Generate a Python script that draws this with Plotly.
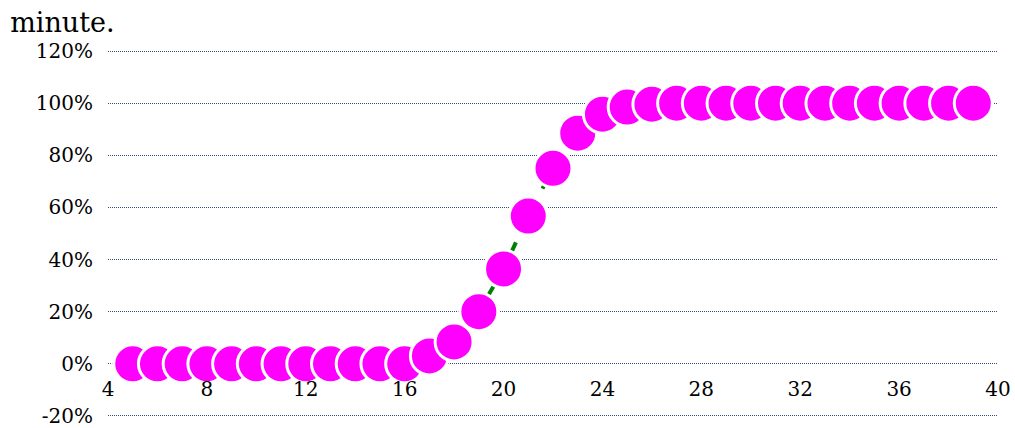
import plotly.graph_objects as go

minutes = list(range(5, 40))
values = [0, 0, 0, 0, 0, 0, 0, 0, 0, 0, 0, 0,
          3.0, 8.4, 20.0, 36.4, 56.7, 75.0, 88.5, 95.8, 98.5, 99.6,
          100, 100, 100, 100, 100, 100, 100, 100, 100, 100, 100, 100, 100]
values = [v / 100 for v in values]
x_ticks = [4, 8, 12, 16, 20, 24, 28, 32, 36, 40]
y_ticks = [-0.2, 0, 0.2, 0.4, 0.6, 0.8, 1.0, 1.2]

font = "DejaVu Serif"
pad = 0.008

fig = go.Figure()
fig.add_trace(go.Scatter(
    x=minutes, y=values, mode="lines+markers",
    line=dict(color="#008000", width=4, dash="dash"),
    marker=dict(size=38, color="#FF00FF", line=dict(color="white", width=3)),
    showlegend=False, cliponaxis=False,
))

fig.update_layout(
    width=1015, height=428,
    margin=dict(l=108, r=17, t=49, b=10, autoexpand=False),
    paper_bgcolor="white", plot_bgcolor="white",
    font=dict(family=font, size=20, color="#000000"),
    title=dict(text="minute.", x=0.01, xanchor="left", y=0.97, yanchor="top",
               font=dict(family=font, size=27, color="#000000")),
    xaxis=dict(range=[4, 40], tickvals=x_ticks, ticktext=[str(t) for t in x_ticks],
               showgrid=False, zeroline=False, showline=False, automargin=False,
               anchor="free", position=(0.2 + pad) / (1.4 + 2 * pad),
               ticks="", ticklabelstandoff=11),
    yaxis=dict(range=[-0.2 - pad, 1.2 + pad], tickvals=y_ticks,
               ticktext=[f"{int(round(t*100))}%" for t in y_ticks],
               showgrid=True, gridcolor="#2F4D80", gridwidth=1, griddash="1px,1px",
               zeroline=False, showline=False, automargin=False,
               ticks="", ticklabelstandoff=14),
)

fig.write_html("out.html")
